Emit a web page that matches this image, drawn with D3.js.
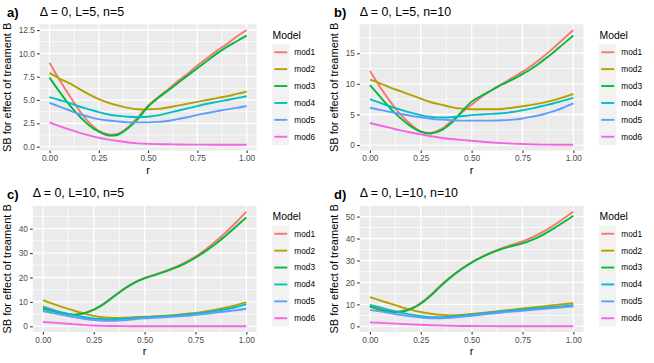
<!DOCTYPE html>
<html>
<head>
<meta charset="utf-8">
<script src="https://cdn.jsdelivr.net/npm/d3@7"></script>
<style>
  html, body { margin: 0; padding: 0; background: #fff; }
  svg { display: block; font-family: "Liberation Sans", Arial, sans-serif; }
</style>
</head>
<body>
<svg id="chart" width="654" height="363"></svg>
<script>
// Four ggplot-style panels (ggarrange 2x2), one legend per panel.

const models = ["mod1", "mod2", "mod3", "mod4", "mod5", "mod6"]
const colors = ["#F8766D", "#B79F00", "#00BA38", "#00BFC4", "#619CFF", "#F564E3"]

const rValues = [0, 0.05, 0.1, 0.15, 0.2, 0.25, 0.3, 0.35, 0.4, 0.45, 0.5,
  0.55, 0.6, 0.65, 0.7, 0.75, 0.8, 0.85, 0.9, 0.95, 1]

const xTicks = [0, 0.25, 0.5, 0.75, 1]
const xTickLabels = ["0.00", "0.25", "0.50", "0.75", "1.00"]

const panelLabels = ["a)", "b)", "c)", "d)"]
const panelTitles = ["Δ = 0, L=5, n=5", "Δ = 0, L=5, n=10", "Δ = 0, L=10, n=5", "Δ = 0, L=10, n=10"]

const yTicksA = [0, 2.5, 5, 7.5, 10, 12.5]
const yTickLabelsA = ["0.0", "2.5", "5.0", "7.5", "10.0", "12.5"]
const yTicksB = [0, 5, 10, 15]
const yTicksC = [0, 10, 20, 30, 40]
const yTicksD = [0, 10, 20, 30, 40, 50]

// series per panel, in model order mod1..mod6
const panelA = [
  [9.0, 7.2, 5.5, 3.9, 2.6, 1.7, 1.3, 1.4, 2.1, 3.2, 4.4, 5.3, 6.1, 7.0, 7.8, 8.7, 9.5, 10.3, 11.0, 11.8, 12.5],
  [7.9, 7.3, 6.8, 6.2, 5.6, 5.1, 4.7, 4.4, 4.15, 4.0, 4.0, 4.05, 4.2, 4.4, 4.6, 4.8, 5.0, 5.2, 5.4, 5.65, 5.9],
  [7.4, 5.9, 4.5, 3.3, 2.3, 1.6, 1.2, 1.3, 2.0, 3.0, 4.3, 5.2, 6.0, 6.8, 7.6, 8.4, 9.2, 10.0, 10.7, 11.3, 11.9],
  [5.3, 5.0, 4.7, 4.3, 4.0, 3.7, 3.45, 3.3, 3.2, 3.15, 3.2, 3.35, 3.6, 3.85, 4.1, 4.35, 4.6, 4.8, 5.0, 5.2, 5.4],
  [4.7, 4.3, 3.9, 3.5, 3.2, 2.95, 2.8, 2.7, 2.6, 2.6, 2.6, 2.65, 2.75, 2.95, 3.15, 3.4, 3.6, 3.8, 4.0, 4.15, 4.35],
  [2.6, 2.2, 1.85, 1.5, 1.2, 0.95, 0.75, 0.6, 0.45, 0.35, 0.3, 0.27, 0.25, 0.23, 0.22, 0.22, 0.21, 0.2, 0.2, 0.2, 0.2]
]
const panelB = [
  [12.1, 9.5, 7.1, 5.0, 3.4, 2.2, 2.0, 2.6, 3.9, 5.3, 6.6, 7.9, 9.0, 10.0, 11.0, 12.0, 13.1, 14.4, 15.8, 17.3, 18.8],
  [10.7, 10.1, 9.4, 8.8, 8.2, 7.6, 7.0, 6.6, 6.2, 5.95, 5.85, 5.85, 5.85, 5.9, 6.1, 6.35, 6.6, 6.9, 7.3, 7.8, 8.35],
  [9.8, 7.9, 6.0, 4.4, 3.1, 2.2, 1.9, 2.4, 3.6, 5.4, 7.1, 8.1, 9.0, 9.9, 10.7, 11.6, 12.6, 13.8, 15.1, 16.5, 17.9],
  [7.5, 6.9, 6.3, 5.8, 5.3, 4.9, 4.6, 4.5, 4.55, 4.7, 4.9, 5.0, 5.1, 5.2, 5.4, 5.7, 6.0, 6.4, 6.8, 7.25, 7.7],
  [6.1, 5.75, 5.4, 5.1, 4.8, 4.55, 4.3, 4.15, 4.05, 4.0, 4.0, 4.0, 4.0, 4.05, 4.15, 4.35, 4.65, 5.0, 5.5, 6.1, 6.8],
  [3.6, 3.2, 2.8, 2.4, 2.05, 1.75, 1.45, 1.2, 1.0, 0.85, 0.7, 0.55, 0.42, 0.32, 0.24, 0.17, 0.12, 0.08, 0.06, 0.05, 0.05]
]
const panelC = [
  [8.3, 6.8, 5.4, 4.8, 5.3, 6.8, 9.3, 12.4, 15.5, 18.0, 19.8, 21.2, 22.6, 24.2, 26.2, 28.6, 31.5, 34.8, 38.5, 42.6, 47.0],
  [10.7, 9.2, 7.8, 6.5, 5.3, 4.3, 3.6, 3.4, 3.5, 3.7, 3.9, 4.1, 4.4, 4.7, 5.1, 5.5, 6.1, 6.8, 7.7, 8.7, 9.8],
  [7.2, 6.2, 5.3, 4.8, 5.3, 6.8, 9.2, 12.3, 15.3, 17.8, 19.6, 21.0, 22.4, 23.9, 25.8, 28.1, 30.8, 33.8, 37.2, 40.9, 44.6],
  [7.7, 6.6, 5.6, 4.6, 3.8, 3.2, 2.9, 2.9, 3.1, 3.4, 3.7, 3.9, 4.1, 4.4, 4.8, 5.2, 5.7, 6.3, 7.0, 7.9, 9.0],
  [6.3, 5.4, 4.6, 3.8, 3.1, 2.6, 2.3, 2.3, 2.5, 2.9, 3.3, 3.5, 3.7, 4.0, 4.3, 4.7, 5.1, 5.6, 6.1, 6.6, 7.2],
  [1.8, 1.5, 1.2, 0.9, 0.6, 0.35, 0.2, 0.12, 0.08, 0.05, 0.04, 0.03, 0.03, 0.03, 0.03, 0.03, 0.03, 0.03, 0.03, 0.03, 0.03]
]
const panelD = [
  [9.2, 7.9, 7.0, 6.9, 8.0, 10.6, 14.4, 18.9, 22.8, 26.2, 29.2, 31.7, 33.8, 35.6, 37.2, 38.7, 40.6, 43.0, 45.8, 48.9, 52.3],
  [13.3, 11.8, 10.3, 8.9, 7.6, 6.5, 5.7, 5.2, 5.0, 5.2, 5.6, 6.1, 6.6, 7.1, 7.6, 8.1, 8.6, 9.1, 9.6, 10.1, 10.5],
  [9.0, 7.5, 6.6, 6.5, 7.8, 10.3, 14.0, 18.5, 22.5, 26.0, 29.0, 31.5, 33.6, 35.3, 36.6, 37.8, 39.5, 41.7, 44.4, 47.3, 50.4],
  [9.8, 8.6, 7.4, 6.3, 5.3, 4.6, 4.2, 4.2, 4.4, 4.8, 5.3, 5.8, 6.3, 6.8, 7.2, 7.6, 8.0, 8.4, 8.8, 9.2, 9.6],
  [7.5, 6.8, 6.0, 5.2, 4.5, 4.0, 3.7, 3.7, 3.9, 4.3, 4.8, 5.3, 5.8, 6.3, 6.7, 7.1, 7.5, 7.9, 8.3, 8.7, 9.0],
  [1.8, 1.6, 1.35, 1.1, 0.9, 0.7, 0.5, 0.35, 0.25, 0.17, 0.12, 0.09, 0.07, 0.05, 0.04, 0.03, 0.03, 0.02, 0.02, 0.02, 0.02]
]

const panels = [
  { series: panelA, yTicks: yTicksA, yLabels: yTickLabelsA },
  { series: panelB, yTicks: yTicksB, yLabels: yTicksB.map(String) },
  { series: panelC, yTicks: yTicksC, yLabels: yTicksC.map(String) },
  { series: panelD, yTicks: yTicksD, yLabels: yTicksD.map(String) }
]

const cellW = 327
const cellH = 181.5
const tickFont = 8.3
const lineW = 1.9

const svg = d3.select("#chart")

// minor breaks sit halfway between majors (one step past each end too)
function minorBreaks(major, domain) {
  const step = major[1] - major[0]
  const ext = [major[0] - step, ...major, major[major.length - 1] + step]
  const out = []
  for (let i = 0; i < ext.length - 1; i++) out.push((ext[i] + ext[i + 1]) / 2)
  return out.filter((v) => v >= domain[0] && v <= domain[1])
}

panels.forEach((p, i) => {
  const cx = (i % 2) * cellW
  const cy = Math.floor(i / 2) * cellH
  const g = svg.append("g").attr("transform", `translate(${cx},${cy})`)

  // panel left edge depends on the widest y tick label
  const probe = g.append("text").style("font-size", tickFont + "px")
  let maxW = 0
  p.yLabels.forEach((t) => {
    probe.text(t)
    maxW = Math.max(maxW, probe.node().getComputedTextLength())
  })
  probe.remove()

  const left = 23.5 + maxW
  const right = 256.5
  const top = 24.3
  const bottom = 150.5

  const all = p.series.flat()
  const lo = d3.min(all)
  const hi = d3.max(all)
  const pad = (hi - lo) * 0.05

  const x = d3.scaleLinear().domain([-0.05, 1.05]).range([left, right])
  const y = d3.scaleLinear().domain([lo - pad, hi + pad]).range([bottom, top])

  // background + grid
  g.append("rect")
    .attr("x", left).attr("y", top)
    .attr("width", right - left).attr("height", bottom - top)
    .attr("fill", "#EBEBEB")

  const grid = g.append("g").attr("stroke", "#fff").attr("fill", "none")
  minorBreaks(p.yTicks, y.domain()).forEach((v) => {
    grid.append("line").attr("x1", left).attr("x2", right)
      .attr("y1", y(v)).attr("y2", y(v)).attr("stroke-width", 0.7)
  })
  minorBreaks(xTicks, x.domain()).forEach((v) => {
    grid.append("line").attr("y1", top).attr("y2", bottom)
      .attr("x1", x(v)).attr("x2", x(v)).attr("stroke-width", 0.7)
  })
  p.yTicks.forEach((v) => {
    grid.append("line").attr("x1", left).attr("x2", right)
      .attr("y1", y(v)).attr("y2", y(v)).attr("stroke-width", 1.35)
  })
  xTicks.forEach((v) => {
    grid.append("line").attr("y1", top).attr("y2", bottom)
      .attr("x1", x(v)).attr("x2", x(v)).attr("stroke-width", 1.35)
  })

  // axes
  const xAxis = g.append("g")
    .attr("transform", `translate(0,${bottom})`)
    .call(d3.axisBottom(x).tickValues(xTicks)
      .tickFormat((d, k) => xTickLabels[k]).tickSize(2.6).tickPadding(2.2))
  const yAxis = g.append("g")
    .attr("transform", `translate(${left},0)`)
    .call(d3.axisLeft(y).tickValues(p.yTicks)
      .tickFormat((d, k) => p.yLabels[k]).tickSize(2.6).tickPadding(2.2))
  ;[xAxis, yAxis].forEach((a) => {
    a.select(".domain").remove()
    a.selectAll(".tick line").attr("stroke", "#333333").attr("stroke-width", 1.1)
    a.selectAll(".tick text")
      .attr("fill", "#4D4D4D")
      .style("font-size", tickFont + "px")
      .style("font-family", '"Liberation Sans", Arial, sans-serif')
  })

  // lines
  const line = d3.line()
    .x((d, k) => x(rValues[k]))
    .y((d) => y(d))
    .curve(d3.curveCatmullRom.alpha(0.5))

  g.append("g")
    .selectAll("path")
    .data(p.series)
    .join("path")
    .attr("d", line)
    .attr("fill", "none")
    .attr("stroke", (d, k) => colors[k])
    .attr("stroke-width", lineW)
    .attr("stroke-linejoin", "round")

  // axis titles
  g.append("text")
    .attr("x", (left + right) / 2).attr("y", 173.5)
    .attr("text-anchor", "middle")
    .style("font-size", "11px")
    .text("r")
  g.append("text")
    .attr("transform", `translate(11,${(top + bottom) / 2}) rotate(-90)`)
    .attr("text-anchor", "middle")
    .style("font-size", "11px")
    .text("SB for effect of treament B")

  // title + panel tag
  g.append("text")
    .attr("x", left).attr("y", 15.8)
    .style("font-size", "12.4px")
    .text(panelTitles[i])
  g.append("text")
    .attr("x", 7).attr("y", 17)
    .style("font-size", "13px")
    .style("font-weight", "bold")
    .text(panelLabels[i])

  // legend
  const leg = g.append("g").attr("transform", "translate(272,0)")
  leg.append("text")
    .attr("x", 0.5).attr("y", 38.6)
    .style("font-size", "10.4px")
    .text("Model")
  const keyH = 16.9
  const keyTop = 43.8
  models.forEach((m, k) => {
    const ky = keyTop + k * keyH
    leg.append("rect")
      .attr("x", 0).attr("y", ky)
      .attr("width", 17.3).attr("height", keyH)
      .attr("fill", "#F2F2F2")
    leg.append("line")
      .attr("x1", 2.3).attr("x2", 15.3)
      .attr("y1", ky + keyH / 2).attr("y2", ky + keyH / 2)
      .attr("stroke", colors[k]).attr("stroke-width", lineW)
    leg.append("text")
      .attr("x", 22.3).attr("y", ky + keyH / 2)
      .attr("dy", "0.35em")
      .style("font-size", tickFont + "px")
      .text(m)
  })
})
</script>
</body>
</html>
